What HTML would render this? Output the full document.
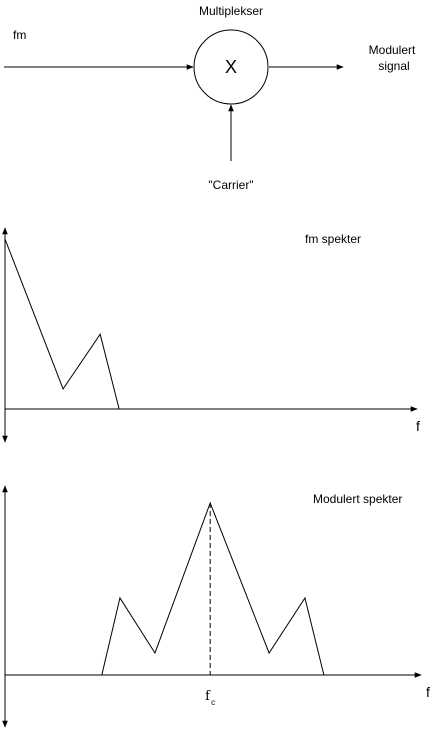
<!DOCTYPE html>
<html><head><meta charset="utf-8"><style>
html,body{margin:0;padding:0;background:#fff;}
svg{display:block;font-family:"Liberation Sans",sans-serif;}
</style></head><body>
<svg id="c" width="432" height="731" viewBox="0 0 432 731">
<defs>
<marker id="ah" viewBox="0 0 10 10" refX="9" refY="5" markerWidth="7" markerHeight="7" orient="auto-start-reverse" markerUnits="userSpaceOnUse"><path d="M0,1 L10,5 L0,9 z" fill="#000"/></marker>
</defs>
<g>
<text x="231" y="15" font-size="12" text-anchor="middle">Multiplekser</text>
<text x="13" y="39" font-size="12">fm</text>
<line x1="4" y1="67" x2="193" y2="67" stroke="#000" stroke-width="1" marker-end="url(#ah)"/>
<circle cx="231" cy="67" r="37" fill="none" stroke="#000" stroke-width="1"/>
<text x="231" y="73" font-size="18" text-anchor="middle">X</text>
<line x1="269" y1="67" x2="343" y2="67" stroke="#000" stroke-width="1" marker-end="url(#ah)"/>
<text x="392" y="54" font-size="12" text-anchor="middle">Modulert</text>
<text x="394" y="70" font-size="12" text-anchor="middle">signal</text>
<line x1="231" y1="161" x2="231" y2="105" stroke="#000" stroke-width="1" marker-end="url(#ah)"/>
<text x="231" y="189" font-size="12" text-anchor="middle">"Carrier"</text>
</g>
<g id="p1"></g>
<g id="p2"></g>
</svg>
<script>
const fmFreq = [0, 14.1, 23.1, 27.7];
const fmAmp = [100, 11.8, 44, 0];
const modFreq = [23.5, 27.9, 36.4, 49.8, 64.1, 72.8, 77.4];
const modAmp = [0, 44.8, 12.8, 100, 12.8, 44.8, 0];
const carrierFreq = [49.8];
const carrierLabels = ["f"];

const NS = "http://www.w3.org/2000/svg";
function mk(parent, tag, attrs){const e=document.createElementNS(NS,tag);for(const k in attrs)e.setAttribute(k,attrs[k]);parent.appendChild(e);return e;}
function xScale(f){return 5 + f*4.12;}
function yScaleFactory(base, top){return a => base - a/100*(base-top);}

function drawChart(g, base, top, yTop, yBot, xEnd, freq, amp, titleX, titleY, title, fX, fY){
  const y = yScaleFactory(base, top);
  const ya = mk(g,'line',{x1:5,y1:yBot,x2:5,y2:yTop,stroke:'#000','stroke-width':1,'marker-start':'url(#ah)','marker-end':'url(#ah)'});
  
  
  const xa = mk(g,'line',{x1:5,y1:base,x2:xEnd,y2:base,stroke:'#000','stroke-width':1,'marker-end':'url(#ah)'});
  
  
  const pts = freq.map((f,i)=>xScale(f)+','+y(amp[i])).join(' ');
  const pl = mk(g,'polyline',{points:pts,fill:'none',stroke:'#000','stroke-width':1});
  
  
  const t = mk(g,'text',{x:titleX,y:titleY,'font-size':12});
  t.textContent = title;
  
  
  const fl = mk(g,'text',{x:fX,y:fY,'font-size':14});
  fl.textContent = 'f';
  
  
  return y;
}
drawChart(document.getElementById('p1'), 409, 239, 228, 442, 417, fmFreq, fmAmp, 305, 243, 'fm spekter', 416, 431);
const y2 = drawChart(document.getElementById('p2'), 675, 503, 486, 727, 421, modFreq, modAmp, 313, 503, 'Modulert spekter', 426, 697);
const g2 = document.getElementById('p2');
carrierFreq.forEach((f,i)=>{
  const d = mk(g2,'line',{x1:xScale(f),y1:y2(100),x2:xScale(f),y2:675,stroke:'#000','stroke-width':1,'stroke-dasharray':'5,3'});
  
  
  const t = mk(g2,'text',{x:xScale(f)-5,y:700,'font-size':13,'font-family':'"DejaVu Serif",serif'});
  t.textContent = carrierLabels[i];
  
  
  const s = mk(g2,'text',{x:xScale(f)+1,y:705,'font-size':8});
  s.textContent = 'c';
  
  
});
</script>
</body></html>
